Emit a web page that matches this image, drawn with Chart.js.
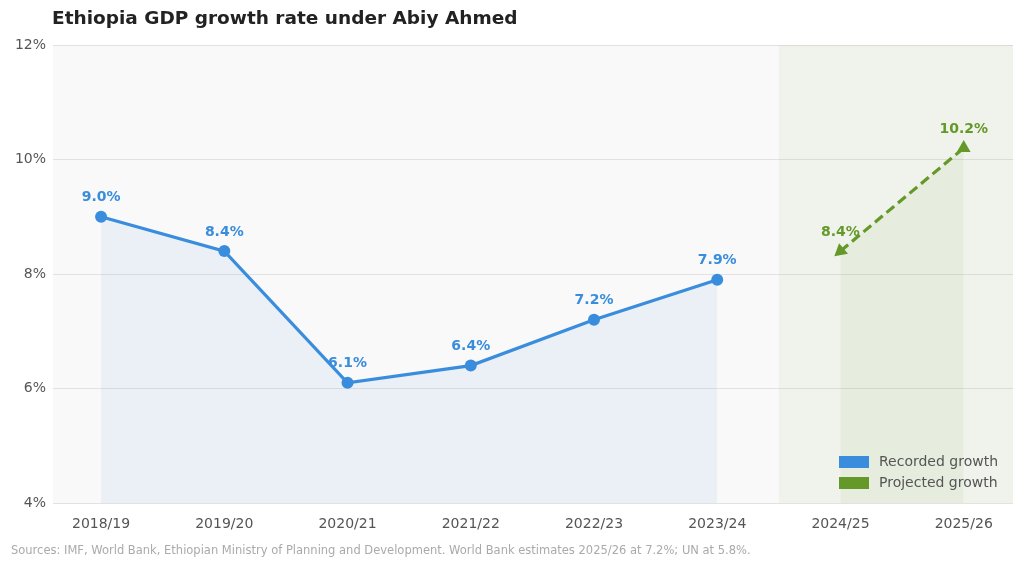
<!DOCTYPE html>
<html>
<head>
<meta charset="utf-8">
<script src="https://cdn.jsdelivr.net/npm/chart.js@4/dist/chart.umd.min.js"></script>
<style>
  html, body { margin: 0; padding: 0; background: #fff; }
  #wrap { width: 1024px; height: 568px; position: relative; }
</style>
</head>
<body>
<div id="wrap"><canvas id="gdpChart"></canvas></div>
<script>
const years = ['2018/19', '2019/20', '2020/21', '2021/22', '2022/23', '2023/24', '2024/25', '2025/26'];
const recordedIdx = [0, 1, 2, 3, 4, 5];
const recordedVals = [9.0, 8.4, 6.1, 6.4, 7.2, 7.9];
const projectedIdx = [6, 7];
const projectedVals = [8.4, 10.2];
const yTicks = [4, 6, 8, 10, 12];

const titleText = 'Ethiopia GDP growth rate under Abiy Ahmed';
const sourceText = 'Sources: IMF, World Bank, Ethiopian Ministry of Planning and Development. World Bank estimates 2025/26 at 7.2%; UN at 5.8%.';

const blue = '#3a8ddd';
const green = '#64992a';
const font = 'DejaVu Sans';

const extras = {
    id: 'extras',
    beforeDraw(chart) {
        const { ctx, chartArea: a } = chart;
        ctx.save();
        ctx.fillStyle = '#f9f9f9';
        ctx.fillRect(a.left, a.top, a.right - a.left, a.bottom - a.top);
        ctx.restore();
    },
    beforeDatasetsDraw(chart) {
        const { ctx, chartArea: a, scales } = chart;
        ctx.save();
        // projection span
        const x0 = scales.x.getPixelForValue(5.5);
        ctx.fillStyle = 'rgba(100, 153, 42, 0.06)';
        ctx.fillRect(x0, a.top, a.right - x0, a.bottom - a.top);
        // value labels
        ctx.font = 'bold 14px "' + font + '"';
        ctx.textAlign = 'center';
        ctx.textBaseline = 'middle';
        chart.data.datasets.forEach((ds, i) => {
            const meta = chart.getDatasetMeta(i);
            ctx.fillStyle = ds.borderColor;
            meta.data.forEach((pt, j) => {
                ctx.fillText(ds.data[j].y.toFixed(1) + '%', pt.x, pt.y - 19);
            });
        });
        ctx.restore();
    },
    afterDraw(chart) {
        const { ctx, chartArea: a } = chart;
        ctx.save();
        ctx.textBaseline = 'middle';
        ctx.fillStyle = '#222';
        ctx.font = 'bold 18.5px "' + font + '"';
        ctx.fillText(titleText, 52, 19);
        ctx.fillStyle = '#aaa';
        ctx.font = '11.5px "' + font + '"';
        ctx.fillText(sourceText, 11, 551);
        // legend
        ctx.font = '14px "' + font + '"';
        chart.data.datasets.forEach((ds, i) => {
            const y = a.bottom - 41 + i * 21;
            ctx.fillStyle = ds.borderColor;
            ctx.fillRect(a.right - 174, y - 6, 30, 12);
            ctx.fillStyle = '#555';
            ctx.fillText(ds.label, a.right - 134, y);
        });
        ctx.restore();
    }
};

new Chart(document.getElementById('gdpChart'), {
    type: 'line',
    data: {
        datasets: [{
            label: 'Recorded growth',
            data: recordedIdx.map((x, i) => ({ x: x, y: recordedVals[i] })),
            borderColor: blue,
            backgroundColor: 'rgba(58, 141, 221, 0.08)',
            borderWidth: 3.2,
            fill: 'start',
            tension: 0,
            pointRadius: 6,
            pointBackgroundColor: blue,
            pointBorderWidth: 0
        }, {
            label: 'Projected growth',
            data: projectedIdx.map((x, i) => ({ x: x, y: projectedVals[i] })),
            borderColor: green,
            backgroundColor: 'rgba(100, 153, 42, 0.07)',
            borderWidth: 3.2,
            borderDash: [10, 5],
            fill: 'start',
            tension: 0,
            pointStyle: 'triangle',
            pointRadius: 8,
            pointRotation: [230, 0],
            pointBackgroundColor: green,
            pointBorderWidth: 0
        }]
    },
    options: {
        responsive: true,
        maintainAspectRatio: false,
        animation: false,
        layout: { padding: { top: 45, right: 11, left: 0, bottom: 0 } },
        plugins: {
            legend: { display: false },
            title: { display: false },
            tooltip: { enabled: false }
        },
        scales: {
            x: {
                type: 'linear',
                min: -0.39,
                max: 7.4,
                afterBuildTicks: (scale) => { scale.ticks = years.map((y, i) => ({ value: i })); },
                afterFit: (scale) => { scale.height = 65; },
                ticks: {
                    callback: (v) => years[v],
                    color: '#555',
                    font: { family: font, size: 14 },
                    padding: 5,
                    maxRotation: 0,
                    autoSkip: false
                },
                grid: { display: false },
                border: { display: false }
            },
            y: {
                min: 4,
                max: 12,
                afterBuildTicks: (scale) => { scale.ticks = yTicks.map(v => ({ value: v })); },
                afterFit: (scale) => { scale.width = 53; },
                ticks: {
                    callback: (v) => v + '%',
                    color: '#555',
                    font: { family: font, size: 14 },
                    padding: 7
                },
                grid: { color: '#e2e2e2', drawTicks: false, lineWidth: 1 },
                border: { display: false }
            }
        }
    },
    plugins: [extras]
});
</script>
</body>
</html>
